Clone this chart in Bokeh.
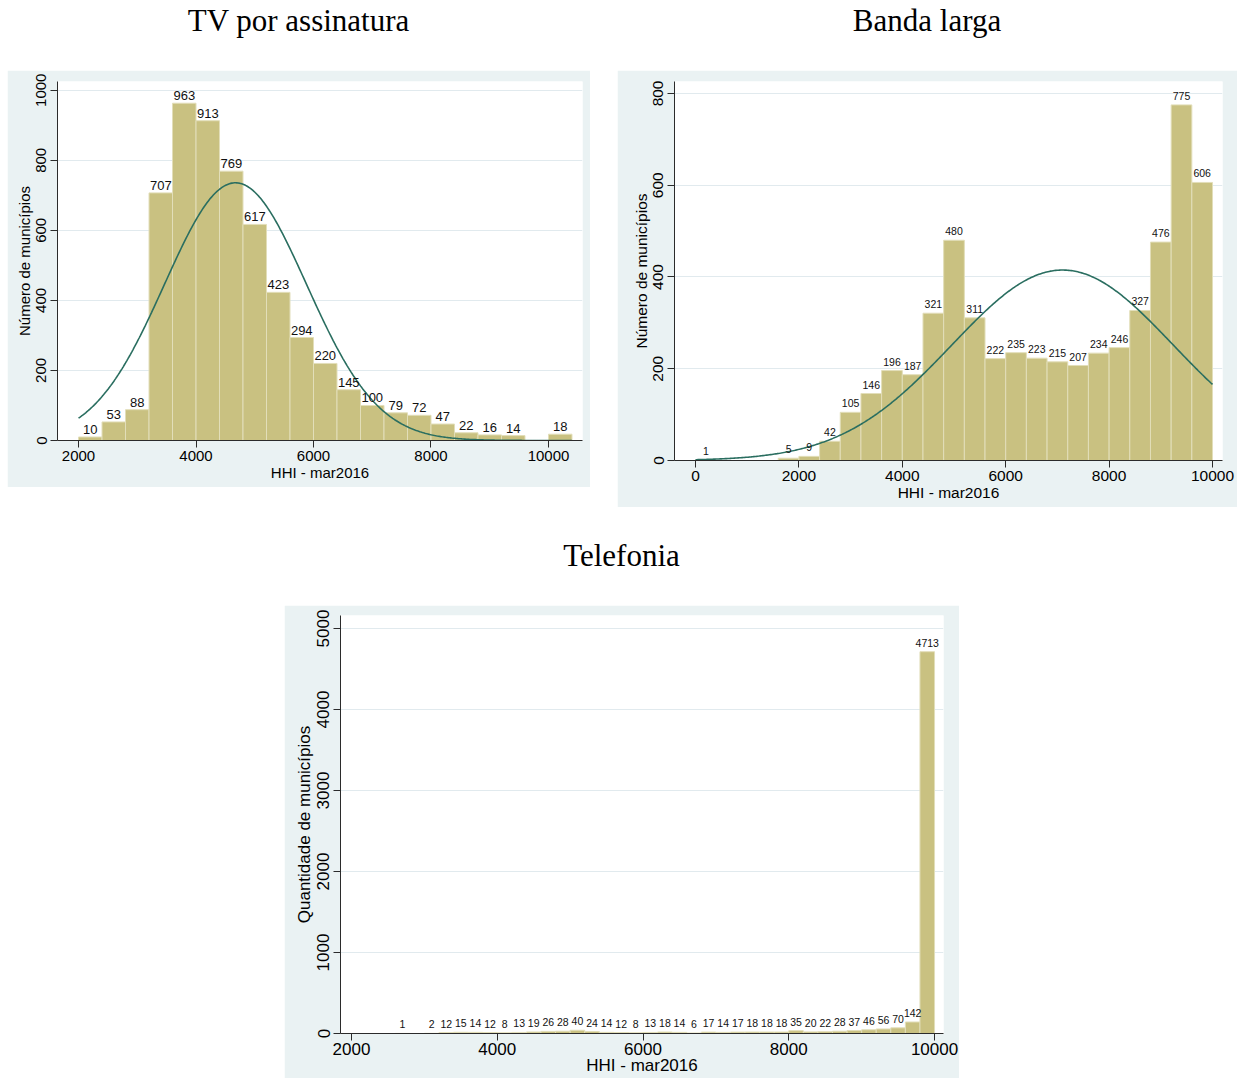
import math
import numpy as np
from bokeh.plotting import figure
from bokeh.layouts import column, row
from bokeh.models import Div, Spacer, FixedTicker, ColumnDataSource
from bokeh.core.properties import value
from bokeh.embed import file_html
from bokeh.resources import INLINE

# ---------------- data ----------------
tv_title = "TV por assinatura"
tv_bin_start = 2000
tv_bin_width = 400
tv_counts = [10, 53, 88, 707, 963, 913, 769, 617, 423, 294, 220, 145, 100,
             79, 72, 47, 22, 16, 14, 0, 18]
tv_normal_mean = 4672
tv_normal_sd = 1208
tv_xticks = [2000, 4000, 6000, 8000, 10000]
tv_yticks = [0, 200, 400, 600, 800, 1000]

bl_title = "Banda larga"
bl_bin_start = 0
bl_bin_width = 400
bl_counts = [1, 0, 0, 0, 5, 9, 42, 105, 146, 196, 187, 321, 480, 311, 222,
             235, 223, 215, 207, 234, 246, 327, 476, 775, 606]
bl_normal_mean = 7099
bl_normal_sd = 2141
bl_xticks = [0, 2000, 4000, 6000, 8000, 10000]
bl_yticks = [0, 200, 400, 600, 800]

tel_title = "Telefonia"
tel_bin_start = 2600
tel_bin_width = 200
tel_counts = [1, 0, 2, 12, 15, 14, 12, 8, 13, 19, 26, 28, 40, 24, 14, 12, 8,
              13, 18, 14, 6, 17, 14, 17, 18, 18, 18, 35, 20, 22, 28, 37, 46,
              56, 70, 142, 4713]
tel_xticks = [2000, 4000, 6000, 8000, 10000]
tel_yticks = [0, 1000, 2000, 3000, 4000, 5000]

x_label = "HHI - mar2016"
y_label_a = "Número de municípios"
y_label_b = "Quantidade de municípios"

# ---------------- style ----------------
BG = "#EAF2F3"
BAR = "#C9C181"
BAR_EDGE = "#E2DEB9"
CURVE = "#2A6E60"
GRID = "#E1EAEE"
AXIS = "#2B2B2B"
FONT = "Liberation Sans"
Z = (0, 0, 0, 0)


def make_panel(counts, start, bw, xr, yr, xticks, yticks, ylabel, W, H, borders,
               tick_fs, title_fs, label_fs, label_off, mean=None, sd=None,
               curve_lo=None, curve_hi=None):
    p = figure(width=W, height=H, x_range=xr, y_range=yr,
               output_backend="svg", toolbar_location=None,
               min_border_left=borders[0], min_border_right=borders[1],
               min_border_top=borders[2], min_border_bottom=borders[3],
               border_fill_color=BG, background_fill_color="white",
               outline_line_color=None, margin=Z)
    lefts = [start + i * bw for i in range(len(counts))]
    rights = [l + bw for l in lefts]
    src = ColumnDataSource(dict(left=lefts, right=rights, top=counts))
    p.quad(left="left", right="right", top="top", bottom=0, source=src,
           fill_color=BAR, line_color=BAR_EDGE, line_width=1)

    if mean is not None:
        n = sum(counts)
        xs = np.linspace(curve_lo, curve_hi, 400)
        ys = n * bw / (sd * math.sqrt(2 * math.pi)) * np.exp(-0.5 * ((xs - mean) / sd) ** 2)
        p.line(xs, ys, line_color=CURVE, line_width=1.6)

    lx = [l + bw / 2 for l, c in zip(lefts, counts) if c > 0]
    ly = [c for c in counts if c > 0]
    lt = [str(c) for c in counts if c > 0]
    p.text(x=lx, y=ly, text=lt, text_align="center", text_baseline="bottom",
           y_offset=label_off, text_font=value(FONT), text_font_size=label_fs,
           text_color="#111111")

    p.xaxis.ticker = FixedTicker(ticks=xticks)
    p.yaxis.ticker = FixedTicker(ticks=yticks)
    p.xaxis.axis_label = x_label
    p.yaxis.axis_label = ylabel
    p.yaxis.major_label_orientation = "vertical"
    for ax in (p.xaxis, p.yaxis):
        ax.axis_line_color = AXIS
        ax.axis_line_width = 1
        ax.major_tick_line_color = AXIS
        ax.major_tick_out = 7
        ax.major_tick_in = 0
        ax.minor_tick_line_color = None
        ax.major_label_text_font = FONT
        ax.major_label_text_font_size = tick_fs
        ax.major_label_text_color = "#000000"
        ax.axis_label_text_font = FONT
        ax.axis_label_text_font_size = title_fs
        ax.axis_label_text_font_style = "normal"
        ax.axis_label_text_color = "#000000"
    p.xaxis.major_label_standoff = 3
    p.xaxis.axis_label_standoff = 0
    p.yaxis.major_label_standoff = 4
    p.yaxis.axis_label_standoff = 1
    p.xgrid.grid_line_color = None
    p.ygrid.grid_line_color = GRID
    p.ygrid.grid_line_width = 1
    return p


def title_div(text, w, h, pad):
    html = ('<div style="font-family:\'Liberation Serif\',serif;font-size:31px;'
            'line-height:31px;text-align:center;width:%dpx;position:relative;'
            'top:%dpx;color:#000;white-space:nowrap;">%s</div>' % (w, pad, text))
    return Div(text=html, width=w, height=h, margin=Z)


p1 = make_panel(tv_counts, tv_bin_start, tv_bin_width, (1642, 10579), (0, 1025),
                tv_xticks, tv_yticks, y_label_a, 583, 417, (50, 8, 11, 44),
                "15px", "15px", "13px", -3,
                tv_normal_mean, tv_normal_sd, 2000, 10400)
p2 = make_panel(bl_counts, bl_bin_start, bl_bin_width, (-406, 10193), (0, 826),
                bl_xticks, bl_yticks, y_label_a, 620, 437, (57, 15, 10, 47),
                "15.5px", "15.5px", "10.5px", -5,
                bl_normal_mean, bl_normal_sd, 0, 10000)
p3 = make_panel(tel_counts, tel_bin_start, tel_bin_width, (1849, 10123), (0, 5160),
                tel_xticks, tel_yticks, y_label_b, 675, 473, (56, 16, 10, 45),
                "17px", "17px", "10.5px", -5)
p3.xaxis.major_label_standoff = 2
p3.xaxis.axis_label_standoff = -2

row1 = row(title_div(tv_title, 583, 62, -3), Spacer(width=27, height=62, margin=Z),
           title_div(bl_title, 620, 62, -3), spacing=0, margin=Z)
row2 = row(p1, Spacer(width=27, height=437, margin=Z), p2, spacing=0, margin=Z)
row3 = row(Spacer(width=277, height=98, margin=Z),
           title_div(tel_title, 675, 98, 33), spacing=0, margin=Z)
row4 = row(Spacer(width=277, height=473, margin=Z), p3, spacing=0, margin=Z)
layout = column(row1, row2, row3, row4, spacing=0, margin=(8, 0, 0, 7))

open("out.html", "w").write(file_html(layout, INLINE))
